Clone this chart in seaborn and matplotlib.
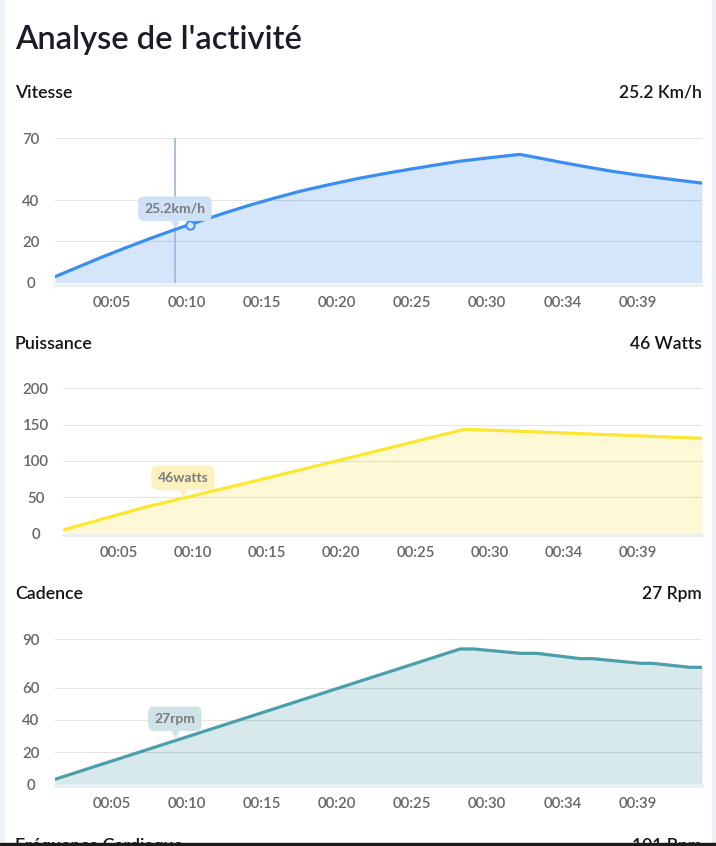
import matplotlib
matplotlib.use("Agg")
import matplotlib.pyplot as plt
from matplotlib.patches import Rectangle
from matplotlib.transforms import offset_copy
import numpy as np
import pandas as pd
import seaborn as sns

# x axis: sample position, ticks labelled with elapsed time
tick_pos = [5, 10, 15, 20, 25, 30, 35, 40]
tick_labels = ["00:05", "00:10", "00:15", "00:20", "00:25", "00:30", "00:34", "00:39"]

# Vitesse (km/h)
speed_x = [1.23, 4.22, 5.89, 7.55, 9.21, 10.21, 12.54, 14.2, 15.87, 17.53, 19.46, 21.39, 23.12,
           24.85, 26.51, 28.18, 30.18, 32.17, 33.5, 34.83, 36.5, 38.16, 39.82, 41.48, 42.81, 44.3]
speed_y = [2.9, 12.0, 16.8, 21.4, 25.75, 28.2, 33.85, 37.6, 41.05, 44.3, 47.5, 50.5, 52.85,
           55.0, 57.0, 58.9, 60.6, 62.2, 60.4, 58.5, 56.3, 54.2, 52.4, 50.8, 49.6, 48.3]
speed_ticks = [0, 20, 40, 70]

# Puissance (watts)
power_x = [1.27, 6.9, 9.35, 15.2, 21.3, 28.3, 31.1, 35.6, 40.35, 44.3]
power_y = [4.6, 36.7, 48.5, 77.2, 108.0, 143.4, 141.5, 137.9, 134.2, 131.0]
power_ticks = [0, 50, 100, 150, 200]

# Cadence (rpm)
cad_x = [1.23, 28.2, 29.1, 32.2, 33.3, 36.2, 37.0, 40.2, 41.0, 43.5, 44.3]
cad_y = [3.1, 84.0, 84.0, 81.3, 81.3, 78.0, 78.0, 75.1, 75.1, 72.6, 72.6]
cad_ticks = [0, 20, 40, 60, 90]

# current (hovered) values
cursor_x = 9.21
hover_idx = 5
current = {"Vitesse": 25.2, "Puissance": 46, "Cadence": 27}

sns.set_theme(style="white")
plt.rcParams["font.family"] = ["Lato", "DejaVu Sans"]

W, H = 716, 846
fig = plt.figure(figsize=(W / 100, H / 100), dpi=100)
fig.patch.set_facecolor("white")


def px_axes(left, top, right, bottom):
    return fig.add_axes([left / W, 1 - bottom / H, (right - left) / W, (bottom - top) / H])


def tooltip(ax, x, y, text, fc):
    ax.annotate(text, xy=(x, y), xytext=(0, 22), textcoords="offset pixels",
                ha="center", va="center", fontsize=10, color="#7b7b7b", fontweight="bold",
                bbox=dict(boxstyle="round,pad=0.45,rounding_size=0.4", fc=fc, ec="none"),
                zorder=6)
    tr = offset_copy(ax.transData, fig=fig, x=0, y=8, units="dots")
    ax.plot([x], [y], marker="v", ms=6, color=fc, transform=tr, zorder=6, clip_on=False)


def panel(ax, xs, ys, ticks, line_c, fill_c, ypad):
    df = pd.DataFrame({"x": xs, "y": ys})
    ax.fill_between(xs, ys, 0, color=fill_c, lw=0, zorder=1)
    sns.lineplot(data=df, x="x", y="y", ax=ax, color=line_c, lw=2.3, zorder=3)
    ax.set_xlim(xs[0], xs[-1])
    ax.set_ylim(0, ticks[-1])
    ax.set_yticks(ticks)
    ax.set_xticks(tick_pos)
    ax.set_xticklabels(tick_labels)
    ax.set_xlabel("")
    ax.set_ylabel("")
    ax.set_axisbelow(False)
    ax.grid(axis="y", color="black", alpha=0.1, lw=0.8)
    ax.grid(axis="x", visible=False)
    for s in ["top", "left", "right"]:
        ax.spines[s].set_visible(False)
    ax.spines["bottom"].set_color("#eceef1")
    ax.spines["bottom"].set_linewidth(2)
    ax.spines["bottom"].set_position(("outward", 1.5))
    ax.tick_params(axis="x", length=0, pad=8, labelsize=10.8, labelcolor="#666666")
    ax.tick_params(axis="y", length=0, pad=ypad, labelsize=10.8, labelcolor="#666666")
    for lab in ax.get_yticklabels():
        lab.set_horizontalalignment("center")
        lab.set_fontweight("semibold")
    for lab in ax.get_xticklabels():
        lab.set_fontweight("semibold")
    ax.set_facecolor("none")


ax1 = px_axes(55, 138.3, 702, 282.7)
panel(ax1, speed_x, speed_y, speed_ticks, "#3a8ef0", "#d5e5fa", 17.6)
ax1.axvline(cursor_x, color="#a7b8d8", lw=1.3, zorder=2.6)
ax1.plot([speed_x[hover_idx]], [speed_y[hover_idx]], marker="o", ms=6, mfc="#d5e5fa",
         mec="#3a8ef0", mew=1.4, zorder=4)
tooltip(ax1, cursor_x, current["Vitesse"], f"{current['Vitesse']}km/h", "#cfe1f7")

ax2 = px_axes(63.3, 388.3, 702, 533.3)
panel(ax2, power_x, power_y, power_ticks, "#fde62e", "#fdf8d6", 20)
tooltip(ax2, 9.33, current["Puissance"], f"{current['Puissance']}watts", "#fcf2c0")

ax3 = px_axes(55, 639.3, 702, 784.3)
panel(ax3, cad_x, cad_y, cad_ticks, "#4a9fab", "#d8e9ec", 17.6)
tooltip(ax3, cursor_x, current["Cadence"], f"{current['Cadence']}rpm", "#d0e4e8")

# header and section labels
fig.text(15 / W, 1 - 40 / H, "Analyse de l'activité", fontsize=23.5, fontweight="semibold",
         color="#1c1c28", va="center", ha="left")
sections = [("Vitesse", "25.2 Km/h", 93), ("Puissance", "46 Watts", 344),
            ("Cadence", "27 Rpm", 594)]
for name, val, y in sections:
    fig.text(15 / W, 1 - y / H, name, fontsize=12.8, fontweight="semibold", color="#151515",
             va="center", ha="left")
    fig.text(702 / W, 1 - y / H, val, fontsize=12.5, fontweight="semibold", color="#151515",
             va="center", ha="right")
fig.text(15 / W, 1 - 838 / H, "Fréquence Cardiaque", fontsize=12.8, fontweight="semibold",
         color="#151515", va="top", ha="left")
fig.text(702 / W, 1 - 838 / H, "101 Bpm", fontsize=12.5, fontweight="semibold",
         color="#151515", va="top", ha="right")

# page chrome: side stripes and bottom bar
fig.patches.append(Rectangle((0, 0), 4 / W, 1, transform=fig.transFigure, color="#eef2f6", zorder=0))
fig.patches.append(Rectangle((712 / W, 0), 4 / W, 1, transform=fig.transFigure, color="#eceff3", zorder=0))
fig.patches.append(Rectangle((0, 0), 1, 3 / H, transform=fig.transFigure, color="#1b1b1b", zorder=10))

fig.savefig("out.png", dpi=100)
